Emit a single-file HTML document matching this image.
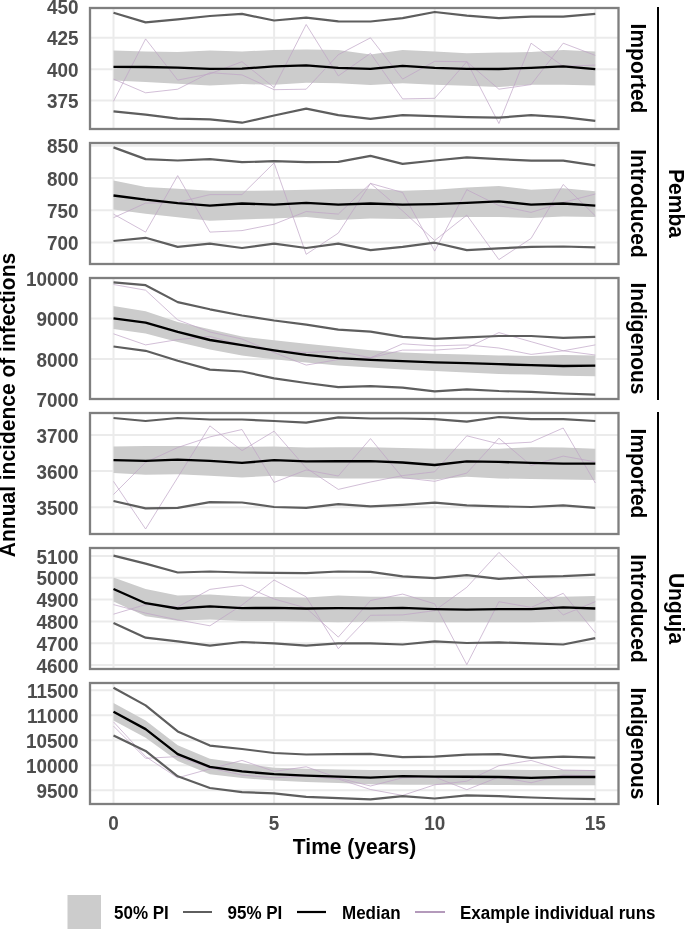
<!DOCTYPE html>
<html><head><meta charset="utf-8"><title>Annual incidence of infections</title>
<style>
html,body{margin:0;padding:0;background:#fff;}
body{width:685px;height:929px;overflow:hidden;}
svg{display:block;will-change:transform;}
text{font-family:"Liberation Sans",sans-serif;font-weight:bold;}
.tk{font-size:18.9px;fill:#4d4d4d;}
.st{font-size:21px;fill:#000;}
.ti{font-size:21px;fill:#000;}
.lg{font-size:17px;fill:#000;}
</style></head>
<body>
<svg width="685" height="929" viewBox="0 0 685 929">
<rect x="0" y="0" width="685" height="929" fill="#ffffff"/>
<defs>
<clipPath id="c0"><rect x="90.0" y="8" width="528.5" height="121"/></clipPath>
<clipPath id="c1"><rect x="90.0" y="143" width="528.5" height="121"/></clipPath>
<clipPath id="c2"><rect x="90.0" y="278" width="528.5" height="121"/></clipPath>
<clipPath id="c3"><rect x="90.0" y="413" width="528.5" height="121"/></clipPath>
<clipPath id="c4"><rect x="90.0" y="548" width="528.5" height="121"/></clipPath>
<clipPath id="c5"><rect x="90.0" y="683" width="528.5" height="121"/></clipPath>
</defs>
<g clip-path="url(#c0)">
<line x1="90.0" y1="100.6" x2="618.5" y2="100.6" stroke="#ebebeb" stroke-width="2.0"/>
<line x1="90.0" y1="69.2" x2="618.5" y2="69.2" stroke="#ebebeb" stroke-width="2.0"/>
<line x1="90.0" y1="37.75" x2="618.5" y2="37.75" stroke="#ebebeb" stroke-width="2.0"/>
<line x1="90.0" y1="6.5" x2="618.5" y2="6.5" stroke="#ebebeb" stroke-width="2.0"/>
<line x1="113.5" y1="8" x2="113.5" y2="129" stroke="#ebebeb" stroke-width="2.0"/>
<line x1="274.1" y1="8" x2="274.1" y2="129" stroke="#ebebeb" stroke-width="2.0"/>
<line x1="434.7" y1="8" x2="434.7" y2="129" stroke="#ebebeb" stroke-width="2.0"/>
<line x1="595.3" y1="8" x2="595.3" y2="129" stroke="#ebebeb" stroke-width="2.0"/>
<polygon points="113.5,50.5 145.6,51.6 177.7,52.0 209.9,50.5 242.0,51.5 274.1,49.9 306.2,49.5 338.3,50.1 370.5,54.4 402.6,49.9 434.7,51.6 466.8,53.3 498.9,52.6 531.1,52.0 563.2,49.9 595.3,51.6 595.3,85.4 563.2,84.8 531.1,84.8 498.9,86.9 466.8,85.8 434.7,84.8 402.6,83.3 370.5,85.1 338.3,83.3 306.2,82.7 274.1,84.8 242.0,84.1 209.9,85.4 177.7,83.7 145.6,82.0 113.5,80.5" fill="#cccccc"/>
<polyline points="113.5,101.3 145.6,38.9 177.7,80.1 209.9,73.8 242.0,61.7 274.1,87.6 306.2,24.5 338.3,75.9 370.5,53.3 402.6,98.9 434.7,98.3 466.8,61.7 498.9,89.2 531.1,84.6 563.2,43.2 595.3,55.4" fill="none" stroke="#bfa4c5" stroke-width="0.7" stroke-linejoin="round"/>
<polyline points="113.5,79.1 145.6,92.8 177.7,89.2 209.9,72.7 242.0,74.9 274.1,89.7 306.2,89.2 338.3,54.7 370.5,37.8 402.6,79.1 434.7,61.3 466.8,61.7 498.9,123.5 531.1,43.2 563.2,66.3 595.3,65.1" fill="none" stroke="#bfa4c5" stroke-width="0.7" stroke-linejoin="round"/>
<polyline points="113.5,12.8 145.6,22.4 177.7,19.4 209.9,16.0 242.0,13.9 274.1,20.5 306.2,17.7 338.3,21.3 370.5,21.5 402.6,18.1 434.7,12.0 466.8,15.6 498.9,18.1 531.1,16.6 563.2,16.6 595.3,13.9" fill="none" stroke="#5e5e5e" stroke-width="2.2" stroke-linejoin="round"/>
<polyline points="113.5,111.3 145.6,114.7 177.7,118.7 209.9,119.3 242.0,122.7 274.1,115.5 306.2,108.7 338.3,115.1 370.5,118.9 402.6,115.1 434.7,116.1 466.8,117.2 498.9,117.7 531.1,115.1 563.2,117.2 595.3,120.8" fill="none" stroke="#5e5e5e" stroke-width="2.2" stroke-linejoin="round"/>
<polyline points="113.5,66.8 145.6,67.0 177.7,67.7 209.9,68.9 242.0,68.7 274.1,66.4 306.2,65.3 338.3,67.9 370.5,68.9 402.6,65.8 434.7,67.9 466.8,68.9 498.9,69.0 531.1,67.9 563.2,66.4 595.3,69.1" fill="none" stroke="#000000" stroke-width="2.35" stroke-linejoin="round"/>
</g>
<rect x="90.0" y="8" width="528.5" height="121" fill="none" stroke="#7f7f7f" stroke-width="2.3"/>
<text class="tk" transform="translate(78.50,108.20) scale(1,1.05)" text-anchor="end">375</text>
<text class="tk" transform="translate(78.50,76.80) scale(1,1.05)" text-anchor="end">400</text>
<text class="tk" transform="translate(78.50,45.35) scale(1,1.05)" text-anchor="end">425</text>
<text class="tk" transform="translate(78.50,14.10) scale(1,1.05)" text-anchor="end">450</text>
<text class="st" transform="translate(630.90,68.50) rotate(90) scale(1,1.05)" text-anchor="middle">Imported</text>
<g clip-path="url(#c1)">
<line x1="90.0" y1="242.4" x2="618.5" y2="242.4" stroke="#ebebeb" stroke-width="2.0"/>
<line x1="90.0" y1="210.2" x2="618.5" y2="210.2" stroke="#ebebeb" stroke-width="2.0"/>
<line x1="90.0" y1="178.0" x2="618.5" y2="178.0" stroke="#ebebeb" stroke-width="2.0"/>
<line x1="90.0" y1="145.8" x2="618.5" y2="145.8" stroke="#ebebeb" stroke-width="2.0"/>
<line x1="113.5" y1="143" x2="113.5" y2="264" stroke="#ebebeb" stroke-width="2.0"/>
<line x1="274.1" y1="143" x2="274.1" y2="264" stroke="#ebebeb" stroke-width="2.0"/>
<line x1="434.7" y1="143" x2="434.7" y2="264" stroke="#ebebeb" stroke-width="2.0"/>
<line x1="595.3" y1="143" x2="595.3" y2="264" stroke="#ebebeb" stroke-width="2.0"/>
<polygon points="113.5,180.6 145.6,187.0 177.7,188.7 209.9,190.8 242.0,190.8 274.1,190.4 306.2,189.7 338.3,189.1 370.5,188.7 402.6,190.8 434.7,189.7 466.8,187.6 498.9,186.1 531.1,189.7 563.2,188.3 595.3,191.2 595.3,216.9 563.2,216.5 531.1,218.0 498.9,216.9 466.8,216.9 434.7,218.0 402.6,219.0 370.5,218.6 338.3,220.1 306.2,216.9 274.1,218.6 242.0,219.4 209.9,220.7 177.7,217.3 145.6,213.7 113.5,209.5" fill="#cccccc"/>
<polyline points="113.5,214.1 145.6,232.1 177.7,175.6 209.9,232.1 242.0,230.6 274.1,224.2 306.2,211.5 338.3,214.1 370.5,183.4 402.6,210.9 434.7,240.5 466.8,215.1 498.9,259.6 531.1,238.4 563.2,184.5 595.3,215.8" fill="none" stroke="#bfa4c5" stroke-width="0.7" stroke-linejoin="round"/>
<polyline points="113.5,217.7 145.6,203.1 177.7,202.4 209.9,194.6 242.0,194.6 274.1,162.9 306.2,254.3 338.3,233.1 370.5,183.4 402.6,192.5 434.7,251.1 466.8,189.7 498.9,205.6 531.1,212.4 563.2,202.4 595.3,194.0" fill="none" stroke="#bfa4c5" stroke-width="0.7" stroke-linejoin="round"/>
<polyline points="113.5,147.4 145.6,159.1 177.7,160.5 209.9,159.1 242.0,162.2 274.1,161.2 306.2,162.2 338.3,161.8 370.5,155.9 402.6,163.9 434.7,160.5 466.8,157.4 498.9,159.1 531.1,160.7 563.2,160.7 595.3,165.4" fill="none" stroke="#5e5e5e" stroke-width="2.2" stroke-linejoin="round"/>
<polyline points="113.5,241.0 145.6,237.8 177.7,246.9 209.9,243.7 242.0,248.0 274.1,243.7 306.2,248.0 338.3,243.7 370.5,250.1 402.6,246.9 434.7,242.7 466.8,250.1 498.9,248.4 531.1,246.9 563.2,246.5 595.3,247.3" fill="none" stroke="#5e5e5e" stroke-width="2.2" stroke-linejoin="round"/>
<polyline points="113.5,195.5 145.6,199.7 177.7,203.1 209.9,205.6 242.0,203.5 274.1,204.6 306.2,202.9 338.3,204.6 370.5,203.5 402.6,204.6 434.7,204.1 466.8,202.9 498.9,201.4 531.1,204.6 563.2,203.5 595.3,205.6" fill="none" stroke="#000000" stroke-width="2.35" stroke-linejoin="round"/>
</g>
<rect x="90.0" y="143" width="528.5" height="121" fill="none" stroke="#7f7f7f" stroke-width="2.3"/>
<text class="tk" transform="translate(78.50,250.00) scale(1,1.05)" text-anchor="end">700</text>
<text class="tk" transform="translate(78.50,217.80) scale(1,1.05)" text-anchor="end">750</text>
<text class="tk" transform="translate(78.50,185.60) scale(1,1.05)" text-anchor="end">800</text>
<text class="tk" transform="translate(78.50,153.40) scale(1,1.05)" text-anchor="end">850</text>
<text class="st" transform="translate(630.90,203.50) rotate(90) scale(1,1.05)" text-anchor="middle">Introduced</text>
<g clip-path="url(#c2)">
<line x1="90.0" y1="399.8" x2="618.5" y2="399.8" stroke="#ebebeb" stroke-width="2.0"/>
<line x1="90.0" y1="358.9" x2="618.5" y2="358.9" stroke="#ebebeb" stroke-width="2.0"/>
<line x1="90.0" y1="318.4" x2="618.5" y2="318.4" stroke="#ebebeb" stroke-width="2.0"/>
<line x1="90.0" y1="278.0" x2="618.5" y2="278.0" stroke="#ebebeb" stroke-width="2.0"/>
<line x1="113.5" y1="278" x2="113.5" y2="399" stroke="#ebebeb" stroke-width="2.0"/>
<line x1="274.1" y1="278" x2="274.1" y2="399" stroke="#ebebeb" stroke-width="2.0"/>
<line x1="434.7" y1="278" x2="434.7" y2="399" stroke="#ebebeb" stroke-width="2.0"/>
<line x1="595.3" y1="278" x2="595.3" y2="399" stroke="#ebebeb" stroke-width="2.0"/>
<polygon points="113.5,306.0 145.6,311.2 177.7,322.0 209.9,329.3 242.0,336.5 274.1,340.3 306.2,343.8 338.3,347.0 370.5,350.2 402.6,352.6 434.7,353.7 466.8,354.6 498.9,355.4 531.1,355.9 563.2,355.0 595.3,355.4 595.3,376.3 563.2,375.7 531.1,374.6 498.9,374.0 466.8,372.4 434.7,370.9 402.6,369.6 370.5,367.4 338.3,365.5 306.2,362.6 274.1,359.3 242.0,355.5 209.9,349.5 177.7,342.0 145.6,333.5 113.5,329.0" fill="#cccccc"/>
<polyline points="113.5,284.5 145.6,290.2 177.7,319.9 209.9,332.0 242.0,339.0 274.1,352.6 306.2,365.1 338.3,359.5 370.5,357.8 402.6,343.8 434.7,345.9 466.8,344.9 498.9,348.0 531.1,354.4 563.2,350.8 595.3,344.9" fill="none" stroke="#bfa4c5" stroke-width="0.7" stroke-linejoin="round"/>
<polyline points="113.5,333.8 145.6,344.9 177.7,339.6 209.9,336.4 242.0,345.2 274.1,350.3 306.2,352.5 338.3,351.1 370.5,357.8 402.6,350.1 434.7,350.1 466.8,348.0 498.9,332.6 531.1,341.7 563.2,350.8 595.3,355.0" fill="none" stroke="#bfa4c5" stroke-width="0.7" stroke-linejoin="round"/>
<polyline points="113.5,282.4 145.6,285.2 177.7,302.1 209.9,309.3 242.0,315.5 274.1,320.5 306.2,324.7 338.3,329.6 370.5,331.7 402.6,336.8 434.7,338.9 466.8,337.4 498.9,336.0 531.1,336.0 563.2,337.9 595.3,336.8" fill="none" stroke="#5e5e5e" stroke-width="2.2" stroke-linejoin="round"/>
<polyline points="113.5,346.5 145.6,350.8 177.7,360.7 209.9,369.6 242.0,371.5 274.1,378.3 306.2,383.0 338.3,387.2 370.5,386.1 402.6,387.6 434.7,391.4 466.8,389.3 498.9,391.0 531.1,391.9 563.2,393.5 595.3,394.6" fill="none" stroke="#5e5e5e" stroke-width="2.2" stroke-linejoin="round"/>
<polyline points="113.5,318.4 145.6,322.6 177.7,331.9 209.9,340.0 242.0,345.2 274.1,350.3 306.2,354.8 338.3,358.2 370.5,359.9 402.6,361.2 434.7,362.4 466.8,363.2 498.9,364.2 531.1,365.2 563.2,366.0 595.3,365.6" fill="none" stroke="#000000" stroke-width="2.35" stroke-linejoin="round"/>
</g>
<rect x="90.0" y="278" width="528.5" height="121" fill="none" stroke="#7f7f7f" stroke-width="2.3"/>
<text class="tk" transform="translate(78.50,407.40) scale(1,1.05)" text-anchor="end">7000</text>
<text class="tk" transform="translate(78.50,366.50) scale(1,1.05)" text-anchor="end">8000</text>
<text class="tk" transform="translate(78.50,326.00) scale(1,1.05)" text-anchor="end">9000</text>
<text class="tk" transform="translate(78.50,285.60) scale(1,1.05)" text-anchor="end">10000</text>
<text class="st" transform="translate(630.90,338.50) rotate(90) scale(1,1.05)" text-anchor="middle">Indigenous</text>
<g clip-path="url(#c3)">
<line x1="90.0" y1="507.2" x2="618.5" y2="507.2" stroke="#ebebeb" stroke-width="2.0"/>
<line x1="90.0" y1="471.1" x2="618.5" y2="471.1" stroke="#ebebeb" stroke-width="2.0"/>
<line x1="90.0" y1="435.1" x2="618.5" y2="435.1" stroke="#ebebeb" stroke-width="2.0"/>
<line x1="113.5" y1="413" x2="113.5" y2="534" stroke="#ebebeb" stroke-width="2.0"/>
<line x1="274.1" y1="413" x2="274.1" y2="534" stroke="#ebebeb" stroke-width="2.0"/>
<line x1="434.7" y1="413" x2="434.7" y2="534" stroke="#ebebeb" stroke-width="2.0"/>
<line x1="595.3" y1="413" x2="595.3" y2="534" stroke="#ebebeb" stroke-width="2.0"/>
<polygon points="113.5,446.5 145.6,445.9 177.7,445.9 209.9,446.5 242.0,446.8 274.1,446.5 306.2,447.6 338.3,447.2 370.5,447.2 402.6,448.0 434.7,448.7 466.8,448.7 498.9,448.7 531.1,447.2 563.2,447.6 595.3,448.7 595.3,480.0 563.2,479.4 531.1,478.9 498.9,478.5 466.8,476.8 434.7,479.4 402.6,478.5 370.5,478.5 338.3,478.5 306.2,477.2 274.1,475.8 242.0,477.5 209.9,475.8 177.7,474.3 145.6,474.7 113.5,473.0" fill="#cccccc"/>
<polyline points="113.5,481.4 145.6,529.0 177.7,477.5 209.9,425.9 242.0,450.6 274.1,431.2 306.2,468.0 338.3,489.4 370.5,482.0 402.6,475.6 434.7,471.8 466.8,435.8 498.9,443.9 531.1,442.2 563.2,428.0 595.3,483.0" fill="none" stroke="#bfa4c5" stroke-width="0.7" stroke-linejoin="round"/>
<polyline points="113.5,494.5 145.6,462.3 177.7,447.5 209.9,436.9 242.0,429.5 274.1,482.4 306.2,470.0 338.3,476.0 370.5,438.6 402.6,477.7 434.7,481.3 466.8,473.1 498.9,438.2 531.1,465.5 563.2,456.1 595.3,461.9" fill="none" stroke="#bfa4c5" stroke-width="0.7" stroke-linejoin="round"/>
<polyline points="113.5,418.0 145.6,421.0 177.7,418.0 209.9,419.5 242.0,419.5 274.1,421.0 306.2,422.7 338.3,417.4 370.5,418.5 402.6,418.5 434.7,419.1 466.8,421.6 498.9,417.0 531.1,419.1 563.2,419.1 595.3,421.0" fill="none" stroke="#5e5e5e" stroke-width="2.2" stroke-linejoin="round"/>
<polyline points="113.5,501.0 145.6,508.4 177.7,507.8 209.9,502.1 242.0,502.5 274.1,507.0 306.2,507.8 338.3,504.2 370.5,506.3 402.6,504.8 434.7,502.7 466.8,505.3 498.9,506.3 531.1,507.0 563.2,505.3 595.3,507.8" fill="none" stroke="#5e5e5e" stroke-width="2.2" stroke-linejoin="round"/>
<polyline points="113.5,460.2 145.6,460.8 177.7,459.7 209.9,460.8 242.0,462.9 274.1,460.2 306.2,461.4 338.3,461.2 370.5,461.2 402.6,462.5 434.7,465.0 466.8,461.4 498.9,461.9 531.1,462.9 563.2,463.6 595.3,463.6" fill="none" stroke="#000000" stroke-width="2.35" stroke-linejoin="round"/>
</g>
<rect x="90.0" y="413" width="528.5" height="121" fill="none" stroke="#7f7f7f" stroke-width="2.3"/>
<text class="tk" transform="translate(78.50,514.80) scale(1,1.05)" text-anchor="end">3500</text>
<text class="tk" transform="translate(78.50,478.70) scale(1,1.05)" text-anchor="end">3600</text>
<text class="tk" transform="translate(78.50,442.70) scale(1,1.05)" text-anchor="end">3700</text>
<text class="st" transform="translate(630.90,473.50) rotate(90) scale(1,1.05)" text-anchor="middle">Imported</text>
<g clip-path="url(#c4)">
<line x1="90.0" y1="665.1" x2="618.5" y2="665.1" stroke="#ebebeb" stroke-width="2.0"/>
<line x1="90.0" y1="643.3" x2="618.5" y2="643.3" stroke="#ebebeb" stroke-width="2.0"/>
<line x1="90.0" y1="621.4" x2="618.5" y2="621.4" stroke="#ebebeb" stroke-width="2.0"/>
<line x1="90.0" y1="599.6" x2="618.5" y2="599.6" stroke="#ebebeb" stroke-width="2.0"/>
<line x1="90.0" y1="577.7" x2="618.5" y2="577.7" stroke="#ebebeb" stroke-width="2.0"/>
<line x1="90.0" y1="555.9" x2="618.5" y2="555.9" stroke="#ebebeb" stroke-width="2.0"/>
<line x1="113.5" y1="548" x2="113.5" y2="669" stroke="#ebebeb" stroke-width="2.0"/>
<line x1="274.1" y1="548" x2="274.1" y2="669" stroke="#ebebeb" stroke-width="2.0"/>
<line x1="434.7" y1="548" x2="434.7" y2="669" stroke="#ebebeb" stroke-width="2.0"/>
<line x1="595.3" y1="548" x2="595.3" y2="669" stroke="#ebebeb" stroke-width="2.0"/>
<polygon points="113.5,577.6 145.6,589.1 177.7,595.4 209.9,594.6 242.0,596.4 274.1,597.1 306.2,597.5 338.3,595.4 370.5,596.7 402.6,596.7 434.7,597.1 466.8,597.1 498.9,597.1 531.1,597.1 563.2,596.7 595.3,596.1 595.3,621.5 563.2,621.5 531.1,622.2 498.9,622.2 466.8,622.2 434.7,622.2 402.6,620.9 370.5,621.5 338.3,622.2 306.2,621.5 274.1,620.9 242.0,620.9 209.9,619.4 177.7,620.7 145.6,616.3 113.5,601.4" fill="#cccccc"/>
<polyline points="113.5,604.6 145.6,613.1 177.7,619.9 209.9,625.8 242.0,605.0 274.1,580.0 306.2,596.9 338.3,648.7 370.5,615.3 402.6,614.9 434.7,610.6 466.8,587.3 498.9,552.4 531.1,583.1 563.2,614.9 595.3,601.7" fill="none" stroke="#bfa4c5" stroke-width="0.7" stroke-linejoin="round"/>
<polyline points="113.5,614.2 145.6,604.6 177.7,607.0 209.9,589.4 242.0,585.2 274.1,599.0 306.2,608.0 338.3,637.1 370.5,600.5 402.6,594.1 434.7,603.8 466.8,664.6 498.9,601.7 531.1,607.4 563.2,593.3 595.3,632.8" fill="none" stroke="#bfa4c5" stroke-width="0.7" stroke-linejoin="round"/>
<polyline points="113.5,555.6 145.6,563.6 177.7,572.5 209.9,571.5 242.0,572.5 274.1,572.9 306.2,573.2 338.3,571.5 370.5,571.8 402.6,576.3 434.7,578.2 466.8,575.1 498.9,578.9 531.1,576.8 563.2,576.1 595.3,574.6" fill="none" stroke="#5e5e5e" stroke-width="2.2" stroke-linejoin="round"/>
<polyline points="113.5,622.9 145.6,637.7 177.7,641.3 209.9,645.6 242.0,642.0 274.1,643.4 306.2,645.6 338.3,643.4 370.5,643.4 402.6,644.5 434.7,641.3 466.8,643.0 498.9,642.4 531.1,643.4 563.2,644.5 595.3,638.1" fill="none" stroke="#5e5e5e" stroke-width="2.2" stroke-linejoin="round"/>
<polyline points="113.5,589.0 145.6,603.2 177.7,608.5 209.9,606.4 242.0,608.1 274.1,607.9 306.2,608.5 338.3,608.1 370.5,608.3 402.6,607.9 434.7,609.1 466.8,609.6 498.9,609.1 531.1,609.1 563.2,607.4 595.3,608.5" fill="none" stroke="#000000" stroke-width="2.35" stroke-linejoin="round"/>
</g>
<rect x="90.0" y="548" width="528.5" height="121" fill="none" stroke="#7f7f7f" stroke-width="2.3"/>
<text class="tk" transform="translate(78.50,672.70) scale(1,1.05)" text-anchor="end">4600</text>
<text class="tk" transform="translate(78.50,650.90) scale(1,1.05)" text-anchor="end">4700</text>
<text class="tk" transform="translate(78.50,629.00) scale(1,1.05)" text-anchor="end">4800</text>
<text class="tk" transform="translate(78.50,607.20) scale(1,1.05)" text-anchor="end">4900</text>
<text class="tk" transform="translate(78.50,585.30) scale(1,1.05)" text-anchor="end">5000</text>
<text class="tk" transform="translate(78.50,563.50) scale(1,1.05)" text-anchor="end">5100</text>
<text class="st" transform="translate(630.90,608.50) rotate(90) scale(1,1.05)" text-anchor="middle">Introduced</text>
<g clip-path="url(#c5)">
<line x1="90.0" y1="790.3" x2="618.5" y2="790.3" stroke="#ebebeb" stroke-width="2.0"/>
<line x1="90.0" y1="765.3" x2="618.5" y2="765.3" stroke="#ebebeb" stroke-width="2.0"/>
<line x1="90.0" y1="740.3" x2="618.5" y2="740.3" stroke="#ebebeb" stroke-width="2.0"/>
<line x1="90.0" y1="715.3" x2="618.5" y2="715.3" stroke="#ebebeb" stroke-width="2.0"/>
<line x1="90.0" y1="690.3" x2="618.5" y2="690.3" stroke="#ebebeb" stroke-width="2.0"/>
<line x1="113.5" y1="683" x2="113.5" y2="804" stroke="#ebebeb" stroke-width="2.0"/>
<line x1="274.1" y1="683" x2="274.1" y2="804" stroke="#ebebeb" stroke-width="2.0"/>
<line x1="434.7" y1="683" x2="434.7" y2="804" stroke="#ebebeb" stroke-width="2.0"/>
<line x1="595.3" y1="683" x2="595.3" y2="804" stroke="#ebebeb" stroke-width="2.0"/>
<polygon points="113.5,703.0 145.6,720.6 177.7,745.2 209.9,758.7 242.0,763.3 274.1,767.8 306.2,768.7 338.3,769.4 370.5,770.0 402.6,770.0 434.7,770.0 466.8,770.0 498.9,769.8 531.1,770.0 563.2,770.0 595.3,770.0 595.3,785.2 563.2,785.2 531.1,785.2 498.9,785.0 466.8,784.8 434.7,784.8 402.6,784.8 370.5,784.2 338.3,783.1 306.2,782.1 274.1,780.6 242.0,778.1 209.9,774.2 177.7,761.0 145.6,737.8 113.5,720.5" fill="#cccccc"/>
<polyline points="113.5,726.1 145.6,758.3 177.7,756.6 209.9,768.0 242.0,775.0 274.1,777.8 306.2,776.0 338.3,779.0 370.5,789.5 402.6,795.4 434.7,784.8 466.8,781.2 498.9,765.7 531.1,760.4 563.2,770.0 595.3,770.6" fill="none" stroke="#bfa4c5" stroke-width="0.7" stroke-linejoin="round"/>
<polyline points="113.5,721.9 145.6,756.6 177.7,777.8 209.9,768.9 242.0,760.4 274.1,771.4 306.2,766.8 338.3,778.0 370.5,786.0 402.6,777.8 434.7,777.0 466.8,789.7 498.9,777.0 531.1,782.7 563.2,775.0 595.3,776.0" fill="none" stroke="#bfa4c5" stroke-width="0.7" stroke-linejoin="round"/>
<polyline points="113.5,687.8 145.6,705.4 177.7,731.4 209.9,745.6 242.0,749.0 274.1,753.0 306.2,754.5 338.3,754.2 370.5,753.9 402.6,757.2 434.7,756.6 466.8,754.7 498.9,754.1 531.1,757.9 563.2,756.6 595.3,757.7" fill="none" stroke="#5e5e5e" stroke-width="2.2" stroke-linejoin="round"/>
<polyline points="113.5,735.5 145.6,750.9 177.7,776.3 209.9,788.0 242.0,792.2 274.1,793.3 306.2,796.9 338.3,798.2 370.5,799.4 402.6,796.2 434.7,798.5 466.8,795.4 498.9,796.2 531.1,797.5 563.2,798.5 595.3,799.2" fill="none" stroke="#5e5e5e" stroke-width="2.2" stroke-linejoin="round"/>
<polyline points="113.5,711.8 145.6,729.1 177.7,754.1 209.9,766.8 242.0,771.4 274.1,774.2 306.2,775.7 338.3,776.7 370.5,777.7 402.6,776.2 434.7,776.7 466.8,776.7 498.9,777.0 531.1,777.8 563.2,777.0 595.3,777.0" fill="none" stroke="#000000" stroke-width="2.35" stroke-linejoin="round"/>
</g>
<rect x="90.0" y="683" width="528.5" height="121" fill="none" stroke="#7f7f7f" stroke-width="2.3"/>
<text class="tk" transform="translate(78.50,797.90) scale(1,1.05)" text-anchor="end">9500</text>
<text class="tk" transform="translate(78.50,772.90) scale(1,1.05)" text-anchor="end">10000</text>
<text class="tk" transform="translate(78.50,747.90) scale(1,1.05)" text-anchor="end">10500</text>
<text class="tk" transform="translate(78.50,722.90) scale(1,1.05)" text-anchor="end">11000</text>
<text class="tk" transform="translate(78.50,697.90) scale(1,1.05)" text-anchor="end">11500</text>
<text class="st" transform="translate(630.90,743.50) rotate(90) scale(1,1.05)" text-anchor="middle">Indigenous</text>
<text class="tk" transform="translate(113.50,829.50) scale(1,1.05)" text-anchor="middle">0</text>
<text class="tk" transform="translate(274.10,829.50) scale(1,1.05)" text-anchor="middle">5</text>
<text class="tk" transform="translate(434.70,829.50) scale(1,1.05)" text-anchor="middle">10</text>
<text class="tk" transform="translate(595.30,829.50) scale(1,1.05)" text-anchor="middle">15</text>
<line x1="658" y1="7" x2="658" y2="400" stroke="#000" stroke-width="2"/>
<line x1="658" y1="412" x2="658" y2="805" stroke="#000" stroke-width="2"/>
<text class="st" transform="translate(669.10,203.50) rotate(90) scale(1,1.05)" text-anchor="middle">Pemba</text>
<text class="st" transform="translate(669.10,608.50) rotate(90) scale(1,1.05)" text-anchor="middle">Unguja</text>
<text class="ti" transform="translate(354.50,854.20) scale(1,1.05)" text-anchor="middle">Time (years)</text>
<text class="ti" transform="translate(15.40,405.00) rotate(-90) scale(1,1.05)" text-anchor="middle">Annual incidence of infections</text>
<rect x="67.5" y="895" width="33.5" height="40" fill="#cccccc"/>
<text class="lg" transform="translate(114.00,918.50) scale(1,1.05)">50% PI</text>
<line x1="183" y1="912" x2="212" y2="912" stroke="#5e5e5e" stroke-width="2"/>
<text class="lg" transform="translate(227.50,918.50) scale(1,1.05)">95% PI</text>
<line x1="297" y1="912" x2="326" y2="912" stroke="#000" stroke-width="2.2"/>
<text class="lg" transform="translate(342.00,918.50) scale(1,1.05)">Median</text>
<line x1="415" y1="912" x2="445" y2="912" stroke="#b49abb" stroke-width="2"/>
<text class="lg" transform="translate(460.00,918.50) scale(1,1.05)">Example individual runs</text>
</svg>
</body></html>
